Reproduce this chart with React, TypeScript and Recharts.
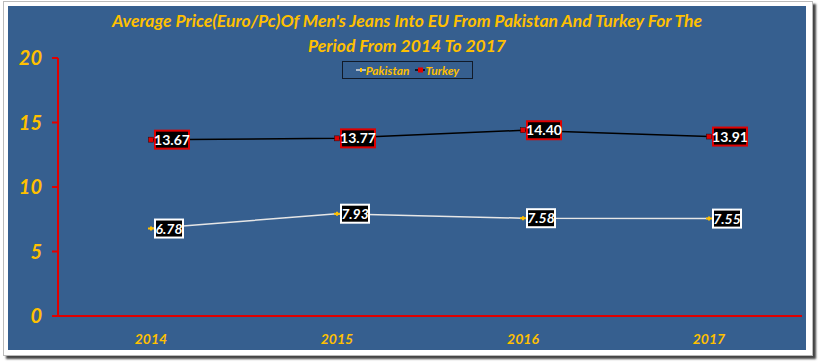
import React from "react";
import { LineChart, Line, XAxis, YAxis } from "recharts";

const years = ["2014", "2015", "2016", "2017"];
const pakistan = [6.78, 7.93, 7.58, 7.55];
const turkey = [13.67, 13.77, 14.4, 13.91];
const yTicks = [0, 5, 10, 15, 20];

const data = years.map((y, i) => ({ year: y, Pakistan: pakistan[i], Turkey: turkey[i] }));

const GOLD = "#FFC000";
const BG = "#365F8F";
const FONT = "Lato, 'Open Sans', sans-serif";

function TurkeyDot(props: any) {
  const { cx, cy } = props;
  return <rect x={cx - 2.5} y={cy - 2.5} width={5} height={5} fill="#e00000" stroke="#300" strokeWidth={0.5} />;
}

function PakDot(props: any) {
  const { cx, cy } = props;
  return <path d={`M${cx - 3},${cy} L${cx + 3},${cy} M${cx},${cy - 2} L${cx},${cy + 2}`} stroke={GOLD} strokeWidth={2} />;
}

function makeLabel(border: string, w: number, italic: boolean) {
  return (props: any) => {
    const { x, y, value } = props;
    const txt = Number(value).toFixed(2);
    return (
      <g>
        <rect x={x + 4} y={y - 9} width={w} height={18} fill="#000" stroke={border} strokeWidth={2} />
        <text
          x={x + 4 + w / 2}
          y={y + 5}
          textAnchor="middle"
          fill="#fff"
          fontFamily={FONT}
          fontWeight={700}
          fontStyle={italic ? "italic" : "normal"}
          fontSize={14}
        >
          {txt}
        </text>
      </g>
    );
  };
}

function LegendBox() {
  return (
    <div
      style={{
        position: "absolute",
        left: 334,
        top: 55,
        border: "1.5px solid #111a28",
        width: 129,
        height: 16,
        display: "flex",
        alignItems: "center",
        justifyContent: "center",
        gap: 6,
        fontFamily: FONT,
        fontWeight: 700,
        fontStyle: "italic",
        fontSize: 12,
        color: GOLD,
      }}
    >
      <span style={{ display: "flex", alignItems: "center" }}>
        <svg width={10} height={6}>
          <line x1={0} y1={3} x2={10} y2={3} stroke="#ddd" strokeWidth={1.5} />
          <line x1={5} y1={1} x2={5} y2={5} stroke={GOLD} strokeWidth={2} />
        </svg>
        Pakistan
      </span>
      <span style={{ display: "flex", alignItems: "center" }}>
        <svg width={10} height={6}>
          <line x1={0} y1={3} x2={10} y2={3} stroke="#000" strokeWidth={1.5} />
          <rect x={3} y={0.5} width={5} height={5} fill="#e00000" />
        </svg>
        Turkey
      </span>
    </div>
  );
}

export default function App() {
  return (
    <div style={{ position: "fixed", left: 0, top: 0, width: 820, height: 363, background: "#fff" }}>
      <div
        style={{
          position: "absolute",
          left: 3,
          top: 1,
          width: 808,
          height: 353,
          background: "#fff",
          border: "1px solid #bbb",
          boxShadow: "3px 3px 2px #444",
        }}
      />
      <div style={{ position: "absolute", left: 8, top: 6, width: 798, height: 344, background: BG }}>
        <div
          style={{
            position: "absolute",
            left: 0,
            top: 2,
            width: 798,
            textAlign: "center",
            color: GOLD,
            fontFamily: FONT,
            fontWeight: 700,
            fontStyle: "italic",
            fontSize: 17.5,
            lineHeight: "25px",
          }}
        >
          Average Price(Euro/Pc)Of Men's Jeans Into EU From Pakistan And Turkey For The
          <br />
          Period From 2014 To 2017
        </div>
        <LegendBox />
        <LineChart width={798} height={344} data={data} margin={{ top: 52, right: 4, left: 0, bottom: 0 }}>
          <XAxis
            dataKey="year"
            height={34}
            padding={{ left: 93, right: 93 }}
            axisLine={{ stroke: "#e00000", strokeWidth: 2 }}
            tickLine={false}
            tickMargin={12}
            tick={{ fill: GOLD, fontFamily: FONT, fontWeight: 700, fontStyle: "italic", fontSize: 14 }}
          />
          <YAxis
            width={50}
            domain={[0, 20]}
            ticks={yTicks}
            axisLine={{ stroke: "#e00000", strokeWidth: 2 }}
            tickLine={{ stroke: "#e00000", strokeWidth: 2 }}
            tickSize={6}
            tickMargin={10}
            tick={{ fill: GOLD, fontFamily: FONT, fontWeight: 700, fontStyle: "italic", fontSize: 20 }}
          />
          <Line
            dataKey="Pakistan"
            stroke="#e6e6e6"
            strokeWidth={1.5}
            dot={<PakDot />}
            label={makeLabel("#fff", 28, true)}
            isAnimationActive={false}
          />
          <Line
            dataKey="Turkey"
            stroke="#000"
            strokeWidth={1.5}
            dot={<TurkeyDot />}
            label={makeLabel("#e00000", 34, false)}
            isAnimationActive={false}
          />
        </LineChart>
      </div>
    </div>
  );
}
